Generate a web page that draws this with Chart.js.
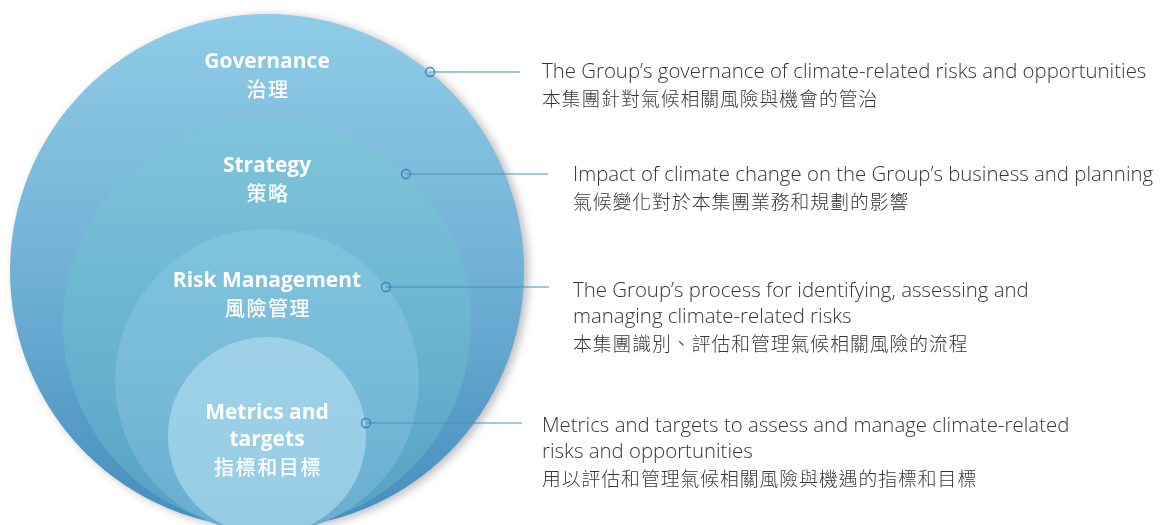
<!DOCTYPE html>
<html><head><meta charset="utf-8">
<script src="https://cdn.jsdelivr.net/npm/chart.js@4.4.1/dist/chart.umd.min.js"></script>
<style>html,body{margin:0;padding:0;background:#fff;}#wrap{width:1166px;height:525px;}</style>
</head><body><div id="wrap"><canvas id="c" width="1166" height="525"></canvas></div>
<script>
// ---- data (diagram space: x 0..1166, y 0..525 top-down) ----
const circleNames   = ['Governance', 'Strategy', 'Risk Management', 'Metrics and targets'];
const circleCenterX = [267, 267, 267, 267];
const circleCenterY = [271, 324, 381, 436];
const circleRadius  = [257, 204, 152, 99];
const circleTopColors = ['#8fcce6', '#7fc5db', '#80c3dc', '#9ed1e7'];
const circleMidColors = ['#71b1d5', '#6bb5d0', '#77bbd8', '#9acfe6'];
const circleBotColors = ['#448dbd', '#55a1c6', '#68add0', '#94cbe4'];

const titleEn = [['Governance'], ['Strategy'], ['Risk Management'], ['Metrics and', 'targets']];
const titleZh = ['治理', '策略', '風險管理', '指標和目標'];
const titleY  = [62, 166, 281, 413];

const markerX = [430, 406, 386, 366];
const markerY = [72, 174, 287, 423];
const lineEndX = [520, 548, 549, 522];

const descX = [542, 573, 573, 542];
const descY = [72, 175, 291, 426];
const descEn = [
  ['The Group\u2019s governance of climate-related risks and opportunities'],
  ['Impact of climate change on the Group\u2019s business and planning'],
  ['The Group\u2019s process for identifying, assessing and', 'managing climate-related risks'],
  ['Metrics and targets to assess and manage climate-related', 'risks and opportunities']
];
const descZh = [
  '本集團針對氣候相關風險與機會的管治',
  '氣候變化對於本集團業務和規劃的影響',
  '本集團識別、評估和管理氣候相關風險的流程',
  '用以評估和管理氣候相關風險與機遇的指標和目標'
];

// ---- helpers ----
function pxLen(chart, v) {
  const s = chart.scales.x;
  if (!s) return 0;
  const d = Math.abs(s.getPixelForValue(v) - s.getPixelForValue(0));
  return isFinite(d) ? d : 0;
}
function circleGradient(i) {
  return (ctx) => {
    const chart = ctx.chart;
    const y = chart.scales.y;
    if (!y) return circleMidColors[i];
    const top = y.getPixelForValue(circleCenterY[i] - circleRadius[i]);
    const bot = y.getPixelForValue(circleCenterY[i] + circleRadius[i]);
    if (!isFinite(top) || !isFinite(bot) || top === bot) return circleMidColors[i];
    const g = chart.ctx.createLinearGradient(0, top, 0, bot);
    g.addColorStop(0, circleTopColors[i]);
    g.addColorStop(0.5, circleMidColors[i]);
    g.addColorStop(1, circleBotColors[i]);
    return g;
  };
}

const datasets = [];
circleNames.forEach((name, i) => {
  datasets.push({
    type: 'scatter',
    label: name,
    data: [{ x: circleCenterX[i], y: circleCenterY[i] }],
    pointRadius: (ctx) => pxLen(ctx.chart, circleRadius[i]),
    pointHoverRadius: (ctx) => pxLen(ctx.chart, circleRadius[i]),
    backgroundColor: circleGradient(i),
    pointBackgroundColor: circleGradient(i),
    borderWidth: 0,
    pointBorderWidth: 0,
    borderColor: 'rgba(0,0,0,0)',
    order: 10 - i,
    clip: false,
    shadow: i === 0
  });
});
// connector lines
circleNames.forEach((name, i) => {
  datasets.push({
    type: 'line',
    label: name + ' connector',
    data: [{ x: markerX[i], y: markerY[i] }, { x: lineEndX[i], y: markerY[i] }],
    borderColor: '#4a8fbb',
    borderWidth: 1.2,
    pointRadius: 0,
    fill: false,
    order: 2
  });
});
// markers
datasets.push({
  type: 'scatter',
  label: 'markers',
  data: markerX.map((x, i) => ({ x, y: markerY[i] })),
  pointRadius: 4.5,
  pointBorderWidth: 1.3,
  pointBackgroundColor: 'rgba(255,255,255,0)',
  pointBorderColor: '#3d84b3',
  order: 1
});

const shadowPlugin = {
  id: 'shadow',
  beforeDatasetDraw(chart, args) {
    const ds = chart.data.datasets[args.index];
    if (ds.shadow) {
      const c = chart.ctx;
      c.save();
      c.shadowColor = 'rgba(60,60,60,0.35)';
      c.shadowBlur = 10;
      c.shadowOffsetX = 4;
      c.shadowOffsetY = 2;
    }
  },
  afterDatasetDraw(chart, args) {
    const ds = chart.data.datasets[args.index];
    if (ds.shadow) chart.ctx.restore();
  }
};

const textPlugin = {
  id: 'texts',
  afterDatasetsDraw(chart) {
    const c = chart.ctx;
    const xs = chart.scales.x, ys = chart.scales.y;
    c.save();
    c.textBaseline = 'middle';
    c.textAlign = 'center';
    c.fillStyle = '#ffffff';
    titleEn.forEach((lines, i) => {
      const cx = xs.getPixelForValue(circleCenterX[i]);
      let y = titleY[i];
      c.font = 'bold 21px "Open Sans", "DejaVu Sans", sans-serif';
      c.letterSpacing = '0px';
      lines.forEach((t) => { c.fillText(t, cx, ys.getPixelForValue(y)); y += 27; });
      c.font = '500 20px "Noto Sans CJK TC", sans-serif';
      c.letterSpacing = '1.6px';
      c.fillText(titleZh[i], cx + 1, ys.getPixelForValue(y));
    });
    c.textAlign = 'left';
    c.fillStyle = '#363636';
    descEn.forEach((lines, i) => {
      const x = xs.getPixelForValue(descX[i]);
      let y = descY[i];
      c.font = '300 20.4px "Open Sans", "Lato", sans-serif';
      c.letterSpacing = '0px';
      lines.forEach((t) => { c.fillText(t, x, ys.getPixelForValue(y)); y += 26.5; });
      c.font = '300 18.8px "Noto Sans CJK TC", sans-serif';
      c.letterSpacing = '1px';
      c.fillText(descZh[i], x, ys.getPixelForValue(y));
    });
    c.restore();
  }
};

const chart = new Chart(document.getElementById('c'), {
  type: 'scatter',
  data: { datasets },
  options: {
    responsive: false,
    devicePixelRatio: 1,
    animation: false,
    events: [],
    layout: { padding: 0, autoPadding: false },
    plugins: { legend: { display: false }, tooltip: { enabled: false } },
    scales: {
      x: { type: 'linear', min: 0, max: 1166, display: false },
      y: { type: 'linear', min: 0, max: 525, reverse: true, display: false }
    }
  },
  plugins: [shadowPlugin, textPlugin]
});
chart.update();
</script>
</body></html>
